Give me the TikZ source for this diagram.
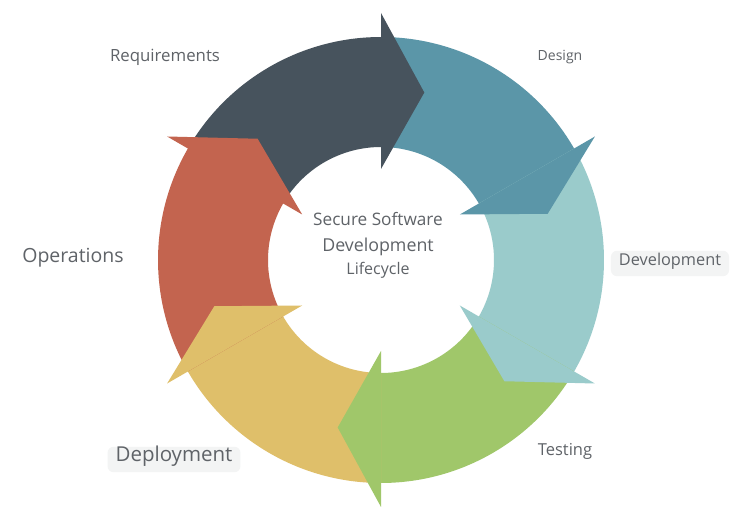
\documentclass[tikz,border=0pt]{standalone}
\usepackage{fontspec}
\setmainfont{Open Sans}
\definecolor{cDark}{HTML}{47535D}
\definecolor{cTeal}{HTML}{5B96A8}
\definecolor{cLight}{HTML}{9ACBCB}
\definecolor{cGreen}{HTML}{A0C76A}
\definecolor{cYellow}{HTML}{DFBF6A}
\definecolor{cRed}{HTML}{C3644F}
\definecolor{cText}{HTML}{5F6368}
\definecolor{cBox}{HTML}{F3F4F4}
\tikzset{
  lbl/.style={text=cText, anchor=base, inner sep=0pt},
  boxlbl/.style={text=cText, anchor=base, fill=cBox, rounded corners=6pt, inner xsep=8pt, inner ysep=8pt, text height=0.72em, text depth=0.22em}
}
\begin{document}
\begin{tikzpicture}[x=1pt,y=1pt]
\useasboundingbox (0,0) rectangle (744,527);
\fill[white] (0,0) rectangle (744,527);
\begin{scope}[shift={(381,267)}]
  % bodies
  \foreach \a/\c in {150/cDark,90/cTeal,30/cLight,-30/cGreen,-90/cYellow,-150/cRed}{
    \fill[\c] (\a:223) arc[start angle=\a, end angle=\a-60.4, radius=223]
      -- (\a-60.4:113) arc[start angle=\a-60.4, end angle=\a, radius=113] -- cycle;
  }
  % heads
  \foreach \b/\c in {90/cDark,30/cTeal,-30/cLight,-90/cGreen,-150/cYellow,150/cRed}{
    \fill[\c] (\b:247) -- (\b-14.5:173) -- (\b:91) -- cycle;
  }
\end{scope}
\node[lbl, font=\fontsize{16.8}{19}\selectfont] (req) at (165,465) {Requirements};
\node[lbl, font=\fontsize{14}{16}\selectfont] (des) at (560,466) {Design};
\node[boxlbl, font=\fontsize{16.3}{18}\selectfont] (dev) at (670,261) {Development};
\node[lbl, font=\fontsize{19.5}{22}\selectfont] (ops) at (73,264) {Operations};
\node[boxlbl, font=\fontsize{20.5}{23}\selectfont] (dep) at (174,65) {Deployment};
\node[lbl, font=\fontsize{16.5}{18}\selectfont] (tst) at (565,71) {Testing};
\node[lbl, font=\fontsize{17.2}{20}\selectfont] (c1) at (378,301) {Secure Software};
\node[lbl, font=\fontsize{17.8}{20}\selectfont] (c2) at (378,275) {Development};
\node[lbl, font=\fontsize{16}{18}\selectfont] (c3) at (378,252) {Lifecycle};
\end{tikzpicture}
\end{document}
